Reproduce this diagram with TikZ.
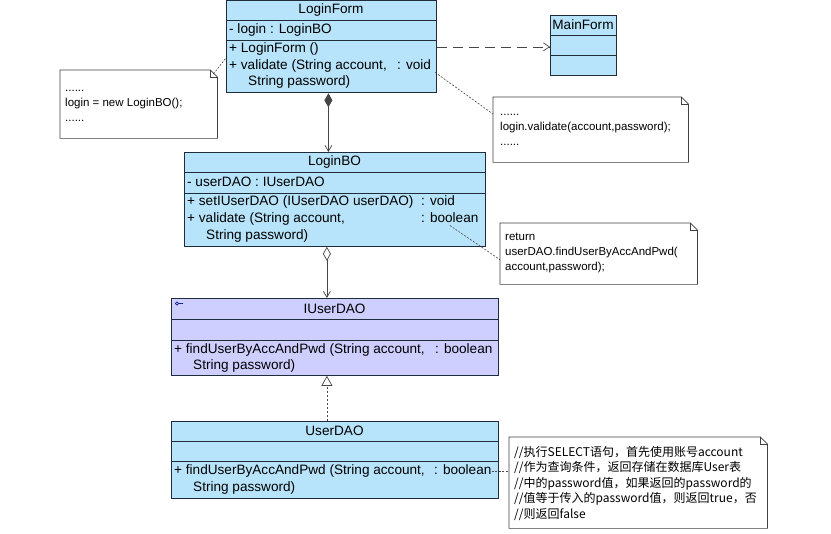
\documentclass[tikz,border=0pt]{standalone}
\usepackage{fontspec}
\setmainfont{Liberation Sans}
\newfontfamily\cjkfont{Noto Sans CJK SC}
\usetikzlibrary{arrows.meta}

\definecolor{clsblue}{RGB}{183,228,250}
\definecolor{ifpurple}{RGB}{206,206,255}
\definecolor{clsline}{RGB}{30,44,60}
\definecolor{linkgray}{RGB}{70,70,70}
\definecolor{iconblue}{RGB}{20,40,140}

\newcommand{\clsfont}{\fontsize{13.6}{17}\selectfont}
\newcommand{\notefont}{\fontsize{11.5}{15}\selectfont}
% note frame with folded corner
\newcommand{\dogear}[1]{%
  \draw[noteline] (#1.north west) -- ([xshift=-7pt]#1.north east) -- ([yshift=-7pt]#1.north east) -- (#1.south east) -- (#1.south west) -- cycle;
  \draw[noteline] ([xshift=-7pt]#1.north east) |- ([yshift=-7pt]#1.north east);}

\tikzset{
  cls/.style={draw=clsline, line width=0.8pt, fill=clsblue, anchor=north west, inner sep=0pt},
  iface/.style={cls, fill=ifpurple},
  sep/.style={draw=clsline, line width=0.8pt},
  title/.style={inner sep=0pt, font=\clsfont},
  row/.style={anchor=west, inner sep=0pt, font=\clsfont, text height=9.5pt, text depth=3pt},
  notebox/.style={anchor=north west, inner sep=0pt},
  notetext/.style={anchor=north west, inner sep=0pt, align=left, font=\notefont},
  noteline/.style={draw=black!75, line width=0.7pt},
  notelink/.style={draw=linkgray, line width=0.6pt, dash pattern=on 2pt off 1.5pt},
  dep/.style={-{Straight Barb[length=6pt,width=8pt]}, draw=linkgray, line width=0.7pt, dash pattern=on 10pt off 6pt},
  comp/.style={{Diamond[length=14pt,width=8pt]}-{Straight Barb[length=6pt,width=7pt]}, draw=linkgray, line width=0.7pt},
  aggr/.style={{Diamond[open,length=14pt,width=8pt]}-{Straight Barb[length=6pt,width=7pt]}, draw=linkgray, line width=0.7pt},
  real/.style={-{Triangle[open,length=10pt,width=11pt]}, draw=linkgray, line width=0.7pt, dash pattern=on 2pt off 2pt}
}

\begin{document}
\begin{tikzpicture}[x=1pt,y=-1pt]
    \useasboundingbox[fill=white] (0,0) rectangle (831,534);

    % LoginForm
    \node[cls, minimum width=210pt, minimum height=92pt] (loginform) at (226,0.5) {};
    \draw[sep] (226,20) -- (436,20);
    \draw[sep] (226,40) -- (436,40);
    \node[title] (lftitle) at (331,10) {LoginForm};
    \node[row] (lfattr) at (229,30) {- login : LoginBO};
    \node[row] (lfctor) at (229,49) {+ LoginForm ()};
    \node[row] (lfvalid) at (229,66) {+ validate (String account,};
    \node[row] (lfvoid) at (397,66) {: void};
    \node[row] (lfpwd) at (248,82) {String password)};

    % MainForm
    \node[cls, minimum width=66pt, minimum height=60pt] (mainform) at (550,15) {};
    \draw[sep] (550,35) -- (616,35);
    \draw[sep] (550,55) -- (616,55);
    \node[title] (mftitle) at (583,25) {MainForm};

    % LoginBO
    \node[cls, minimum width=301pt, minimum height=94pt] (loginbo) at (184,152) {};
    \draw[sep] (184,172) -- (485,172);
    \draw[sep] (184,193) -- (485,193);
    \node[title] (lbtitle) at (334.5,162) {LoginBO};
    \node[row] (lbattr) at (187,183) {- userDAO : IUserDAO};
    \node[row] (lbset) at (187,202) {+ setIUserDAO (IUserDAO userDAO)};
    \node[row] (lbvoid) at (421,202) {: void};
    \node[row] (lbvalid) at (187,219) {+ validate (String account,};
    \node[row] (lbbool) at (421,219) {: boolean};
    \node[row] (lbpwd) at (206,236) {String password)};

    % IUserDAO
    \node[iface, minimum width=327pt, minimum height=77pt] (iuserdao) at (171,298) {};
    \draw[sep] (171,319) -- (498,319);
    \draw[sep] (171,340) -- (498,340);
    \node[title] (iutitle) at (334.5,309) {IUserDAO};
    \draw[iconblue, line width=0.6pt] (177,303.5) circle (1.6) (178.6,303.5) -- (183,303.5);
    \node[row] (iufind) at (174,350) {+ findUserByAccAndPwd (String account,};
    \node[row] (iubool) at (435,350) {: boolean};
    \node[row] (iupwd) at (193,366) {String password)};

    % UserDAO
    \node[cls, minimum width=327pt, minimum height=77pt] (userdao) at (171,421) {};
    \draw[sep] (171,441) -- (498,441);
    \draw[sep] (171,461) -- (498,461);
    \node[title] (udtitle) at (334.5,431) {UserDAO};
    \node[row] (udfind) at (174,471) {+ findUserByAccAndPwd (String account,};
    \node[row] (udbool) at (434,471) {: boolean};
    \node[row] (udpwd) at (193,488) {String password)};

    % Notes
    \node[notebox, minimum width=157pt, minimum height=68pt] (note1) at (60,70) {};
    \dogear{note1}
    \node[notetext] (note1txt) at (65,80.5) {\strut......\\login = new LoginBO();\\......};

    \node[notebox, minimum width=195pt, minimum height=65pt] (note2) at (493,97) {};
    \dogear{note2}
    \node[notetext] (note2txt) at (500,104.5) {\strut......\\login.validate(account,password);\\......};

    \node[notebox, minimum width=197pt, minimum height=61pt] (note3) at (500,223) {};
    \dogear{note3}
    \node[notetext] (note3txt) at (505,229.5) {\strut return\\userDAO.findUserByAccAndPwd(\\account,password);};

    \node[notebox, minimum width=258pt, minimum height=91pt] (note4) at (509,437) {};
    \dogear{note4}
    \node[notetext, font={\cjkfont\fontsize{12}{15.5}\selectfont}] (note4txt) at (514,445) {\strut //执行SELECT语句，首先使用账号account\\//作为查询条件，返回存储在数据库User表\\//中的password值，如果返回的password的\\//值等于传入的password值，则返回true，否\\//则返回false};

    % Relations
    \draw[dep] (loginform.east) -- (loginform.east -| mainform.west);
    \draw[comp] ([xshift=-3pt]loginform.south) -- ([xshift=-3pt]loginform.south |- loginbo.north);
    \draw[aggr] ([xshift=-8pt]loginbo.south) -- ([xshift=-8pt]loginbo.south |- iuserdao.north);
    \draw[real] ([xshift=-8pt]userdao.north) -- ([xshift=-8pt]userdao.north |- iuserdao.south);

    % Note links
    \draw[notelink] ([shift={(-4pt,-4pt)}]note1.north east) -- ([yshift=-11pt]loginform.west);
    \draw[notelink] ([xshift=4pt]lfvoid.south east) -- ([yshift=-17pt]note2.north west);
    \draw[notelink] (lbbool.south) -- ([yshift=-6pt]note3.west);
    \draw[notelink] (udbool.east) -- (udbool.east -| note4.west);
\end{tikzpicture}
\end{document}
